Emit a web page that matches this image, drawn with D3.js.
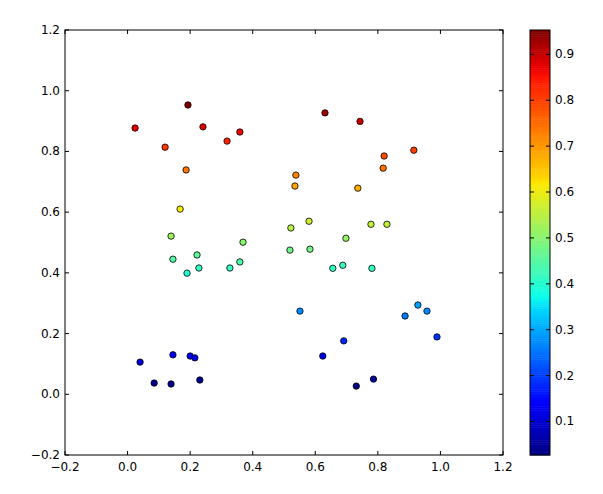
<!DOCTYPE html>
<html><head><meta charset="utf-8">
<script src="https://cdn.jsdelivr.net/npm/d3@7"></script>
<style>body{margin:0;background:#fff}svg{font-family:"DejaVu Sans",sans-serif;font-size:12px}</style>
</head><body><svg id="c" width="603" height="494"></svg>
<script>
const xs=[0.024,0.193,0.241,0.120,0.318,0.359,0.187,0.631,0.743,0.820,0.915,0.817,0.538,0.535,0.736,0.168,0.139,0.369,0.522,0.580,0.698,0.778,0.829,0.145,0.222,0.228,0.190,0.327,0.359,0.519,0.583,0.656,0.688,0.781,0.551,0.928,0.957,0.887,0.989,0.691,0.624,0.040,0.145,0.200,0.215,0.085,0.139,0.231,0.731,0.786];
const ys=[0.877,0.953,0.881,0.814,0.834,0.864,0.739,0.927,0.899,0.785,0.804,0.745,0.722,0.686,0.679,0.610,0.521,0.501,0.548,0.570,0.514,0.560,0.560,0.445,0.459,0.416,0.399,0.416,0.436,0.475,0.478,0.415,0.425,0.415,0.274,0.294,0.274,0.258,0.189,0.176,0.126,0.106,0.130,0.126,0.120,0.037,0.034,0.047,0.027,0.050];
const xTicks=[-0.2,0.0,0.2,0.4,0.6,0.8,1.0,1.2];
const yTicks=[-0.2,0.0,0.2,0.4,0.6,0.8,1.0,1.2];
const cTicks=[0.1,0.2,0.3,0.4,0.5,0.6,0.7,0.8,0.9];
const svg=d3.select("#c");
const L=65,R=503,T=30,B=455;
const x=d3.scaleLinear().domain([-0.2,1.2]).range([L,R]);
const y=d3.scaleLinear().domain([-0.2,1.2]).range([B,T]);
const cmin=d3.min(ys),cmax=d3.max(ys);
const jet=d3.scaleLinear().domain([0,0.11,0.125,0.34,0.375,0.64,0.65,0.89,0.91,1])
 .range(["#000080","#0000f1","#0000ff","#00d4ff","#0dffea","#ffea00","#ffd800","#ff1300","#ee0000","#800000"]).clamp(true);
const col=v=>jet((v-cmin)/(cmax-cmin));
const fmt=d=>d.toFixed(1);
function box(g,x0,y0,x1,y1){g.append("rect").attr("x",x0).attr("y",y0).attr("width",x1-x0).attr("height",y1-y0).attr("fill","none").attr("stroke","#000").attr("stroke-width",1);}
const ax=svg.append("g");
xTicks.forEach(t=>{const px=x(t);
 ax.append("line").attr("x1",px).attr("x2",px).attr("y1",B).attr("y2",B-4).attr("stroke","#000");
 ax.append("line").attr("x1",px).attr("x2",px).attr("y1",T).attr("y2",T+4).attr("stroke","#000");
 ax.append("text").attr("x",px).attr("y",B+16).attr("text-anchor","middle").text(t<0?"\u2212"+fmt(-t):fmt(t));});
yTicks.forEach(t=>{const py=y(t);
 ax.append("line").attr("x1",L).attr("x2",L+4).attr("y1",py).attr("y2",py).attr("stroke","#000");
 ax.append("line").attr("x1",R).attr("x2",R-4).attr("y1",py).attr("y2",py).attr("stroke","#000");
 ax.append("text").attr("x",L-5).attr("y",py+4).attr("text-anchor","end").text(t<0?"\u2212"+fmt(-t):fmt(t));});
svg.append("g").selectAll("circle").data(xs.map((v,i)=>[v,ys[i]])).join("circle")
 .attr("cx",d=>x(d[0])).attr("cy",d=>y(d[1])).attr("r",3.2).attr("fill",d=>col(d[1])).attr("stroke","#000").attr("stroke-width",0.8);
box(svg,L,T,R,B);
// colorbar
const cx0=530,cx1=550;
const cy=d3.scaleLinear().domain([cmin,cmax]).range([B,T]);
const cb=svg.append("g");
d3.range(0,200).forEach(i=>{const v0=cmin+(cmax-cmin)*i/200,v1=cmin+(cmax-cmin)*(i+1)/200;
 cb.append("rect").attr("x",cx0).attr("width",cx1-cx0).attr("y",cy(v1)).attr("height",cy(v0)-cy(v1)+0.5).attr("fill",col((v0+v1)/2));});
cTicks.forEach(t=>{const py=cy(t);
 cb.append("line").attr("x1",cx1).attr("x2",cx1-4).attr("y1",py).attr("y2",py).attr("stroke","#000");
 cb.append("line").attr("x1",cx0).attr("x2",cx0+4).attr("y1",py).attr("y2",py).attr("stroke","#000");
 cb.append("text").attr("x",cx1+5).attr("y",py+4).text(fmt(t));});
box(svg,cx0,T,cx1,B);
</script></body></html>
